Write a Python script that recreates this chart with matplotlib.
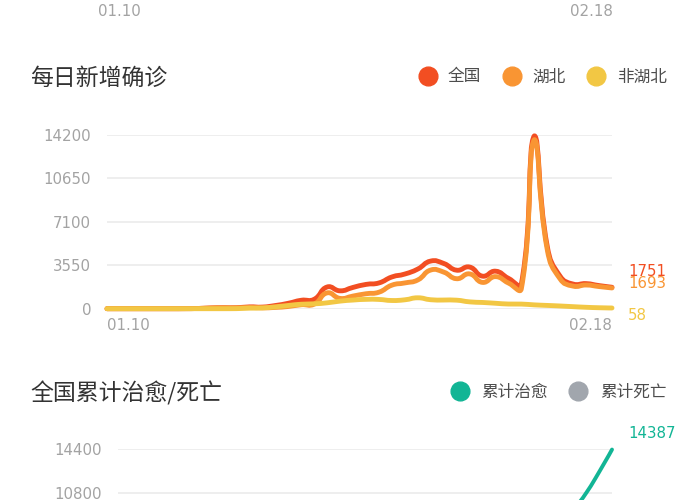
import numpy as np
import matplotlib
matplotlib.use('Agg')
import matplotlib.pyplot as plt
from matplotlib.path import Path
from matplotlib.patches import PathPatch
from matplotlib.lines import Line2D

CJK = ['Noto Sans CJK SC', 'DejaVu Sans']
plt.rcParams['font.family'] = ['DejaVu Sans']

# 01.10 ~ 02.18
dates = ['01.%02d' % d for d in range(10, 32)] + ['02.%02d' % d for d in range(1, 19)]

national = [0, 0, 0, 0, 0, 0, 4, 17, 59, 77, 77, 149, 131, 259, 444, 688, 769, 1771,
            1459, 1737, 1982, 2102, 2590, 2829, 3235, 3887, 3694, 3143, 3399, 2656,
            3062, 2478, 2015, 14108, 5090, 2641, 2009, 2048, 1886, 1751]
hubei = [0, 0, 0, 0, 0, 0, 4, 17, 59, 77, 72, 105, 69, 105, 180, 323, 371, 1291,
         840, 1032, 1220, 1347, 1921, 2103, 2345, 3156, 2987, 2447, 2841, 2147,
         2618, 2097, 1638, 13796, 4823, 2420, 1843, 1933, 1807, 1693]
non_hubei = [0, 0, 0, 0, 0, 0, 0, 0, 0, 0, 5, 44, 62, 154, 264, 365, 398, 480,
             619, 705, 762, 755, 669, 726, 890, 731, 707, 696, 558, 509,
             444, 381, 377, 312, 267, 221, 166, 115, 79, 58]

cured = [2, 6, 7, 7, 7, 12, 15, 19, 24, 25, 25, 25, 28, 34, 38, 49, 51, 60,
         103, 124, 171, 243, 328, 475, 632, 892, 1153, 1540, 2050, 2649,
         3281, 3996, 4740, 5911, 6723, 8096, 9419, 10844, 12552, 14387]
dead = [1, 1, 1, 1, 1, 2, 2, 2, 3, 3, 6, 9, 17, 25, 41, 56, 80, 106,
        132, 170, 213, 259, 304, 361, 425, 490, 563, 636, 722, 811,
        908, 1016, 1113, 1259, 1380, 1523, 1665, 1770, 1868, 2004]

ticks1 = [0, 3550, 7100, 10650, 14200]
ticks2 = [0, 3600, 7200, 10800, 14400]

RED, ORANGE, YELLOW = '#F24E22', '#F99533', '#F2C744'
TEAL, GRAY = '#12B595', '#A1A6AD'
TICK = '#A3A3A3'


def smooth_path(x, y, sx, sy, smooth=0.5):
    # echarts style bezier smoothing, done in pixel-like units
    p = np.column_stack([np.asarray(x, float) * sx, np.asarray(y, float) * sy])
    lo, hi = p.min(axis=0), p.max(axis=0)
    cin, cout = p.copy(), p.copy()
    for i in range(1, len(p) - 1):
        v = (p[i + 1] - p[i - 1]) * smooth
        d0 = np.hypot(*(p[i] - p[i - 1]))
        d1 = np.hypot(*(p[i] - p[i + 1]))
        s = d0 + d1
        if s:
            d0, d1 = d0 / s, d1 / s
        cin[i] = np.clip(p[i] - v * d0, lo, hi)
        cout[i] = np.clip(p[i] + v * d1, lo, hi)
    verts = [p[0]]
    codes = [Path.MOVETO]
    for i in range(len(p) - 1):
        verts += [cout[i], cin[i + 1], p[i + 1]]
        codes += [Path.CURVE4] * 3
    return Path(np.array(verts) / [sx, sy], codes)


def draw(ax, y, color, sx, sy, lw):
    x = np.arange(len(y))
    ax.add_patch(PathPatch(smooth_path(x, y, sx, sy), fill=False, ec=color, lw=lw,
                           capstyle='round', joinstyle='round', clip_on=False))


def style(ax, ticks, shown=None, xlabels=True):
    ax.set_xlim(0, len(dates) - 1)
    ax.set_ylim(ticks[0], ticks[-1])
    ax.set_yticks(ticks)
    if shown is None:
        shown = ticks
    ax.set_yticklabels([str(t) if t in shown else '' for t in ticks])
    ax.grid(axis='y', color='#EBEBEB', lw=1.2)
    ax.set_axisbelow(True)
    for s in ax.spines.values():
        s.set_visible(False)
    ax.tick_params(length=0, labelsize=10.8, labelcolor=TICK)
    ax.tick_params(axis='y', pad=11.5)
    ax.tick_params(axis='x', pad=7)
    ax.set_xticks([0, len(dates) - 1])
    if xlabels:
        ax.set_xticklabels([dates[0], dates[-1]])
        lab = ax.get_xticklabels()
        lab[0].set_ha('left')
        lab[1].set_ha('right')
    else:
        ax.set_xticklabels([])


def legend(items, y):
    for cx, color, tx, text in items:
        fig.add_artist(Line2D([cx / 700], [1 - y / 500], transform=fig.transFigure,
                              marker='o', ms=13.5, color=color, ls=''))
        fig.text(tx / 700, 1 - (y + 1) / 500, text, family=CJK, fontsize=12,
                 color='#4D4D4D', va='center', ha='left')


fig = plt.figure(figsize=(7, 5), dpi=100)

# cut off chart above
fig.text(98 / 700, 1 - 12 / 500, dates[0], fontsize=10.8, color=TICK, va='center')
fig.text(613 / 700, 1 - 12 / 500, dates[-1], fontsize=10.8, color=TICK, va='center', ha='right')

# 每日新增确诊
fig.text(30 / 700, 1 - 78 / 500, '每日新增确诊', family=CJK, fontsize=16.5, color='#333333', va='center')
legend([(428, RED, 448, '全国'), (512, ORANGE, 532, '湖北'), (596, YELLOW, 617, '非湖北')], 76)

ax1 = fig.add_axes([107 / 700, 1 - 308.7 / 500, 505 / 700, 174 / 500])
style(ax1, ticks1)
sx1, sy1 = 505 / 39, 174 / 14200
draw(ax1, national, RED, sx1, sy1, 3.5)
draw(ax1, hubei, ORANGE, sx1, sy1, 3.5)
draw(ax1, non_hubei, YELLOW, sx1, sy1, 3.5)

last = len(dates) - 1
for val, color, dy in [(national[-1], RED, 11.6), (hubei[-1], ORANGE, 3.0), (non_hubei[-1], YELLOW, -5.2)]:
    ax1.annotate(str(val), (last, val), xytext=(11.5, dy), textcoords='offset points',
                 fontsize=10.8, color=color, va='center', ha='left', annotation_clip=False)

# 全国累计治愈/死亡
fig.text(30 / 700, 1 - 393 / 500, '全国累计治愈/死亡', family=CJK, fontsize=16.5, color='#333333', va='center')
legend([(460, TEAL, 481, '累计治愈'), (578, GRAY, 600, '累计死亡')], 391)

ax2 = fig.add_axes([118 / 700, 1 - 623 / 500, 494 / 700, 173.6 / 500])
style(ax2, ticks2, shown=[10800, 14400], xlabels=False)
sx2, sy2 = 494 / 39, 173.6 / 14400
draw(ax2, dead, GRAY, sx2, sy2, 2.8)
draw(ax2, cured, TEAL, sx2, sy2, 2.8)
ax2.annotate(str(cured[-1]), (last, cured[-1]), xytext=(11.5, 11.5), textcoords='offset points',
             fontsize=10.8, color=TEAL, va='center', ha='left', annotation_clip=False)

fig.savefig('out.png', dpi=100)
